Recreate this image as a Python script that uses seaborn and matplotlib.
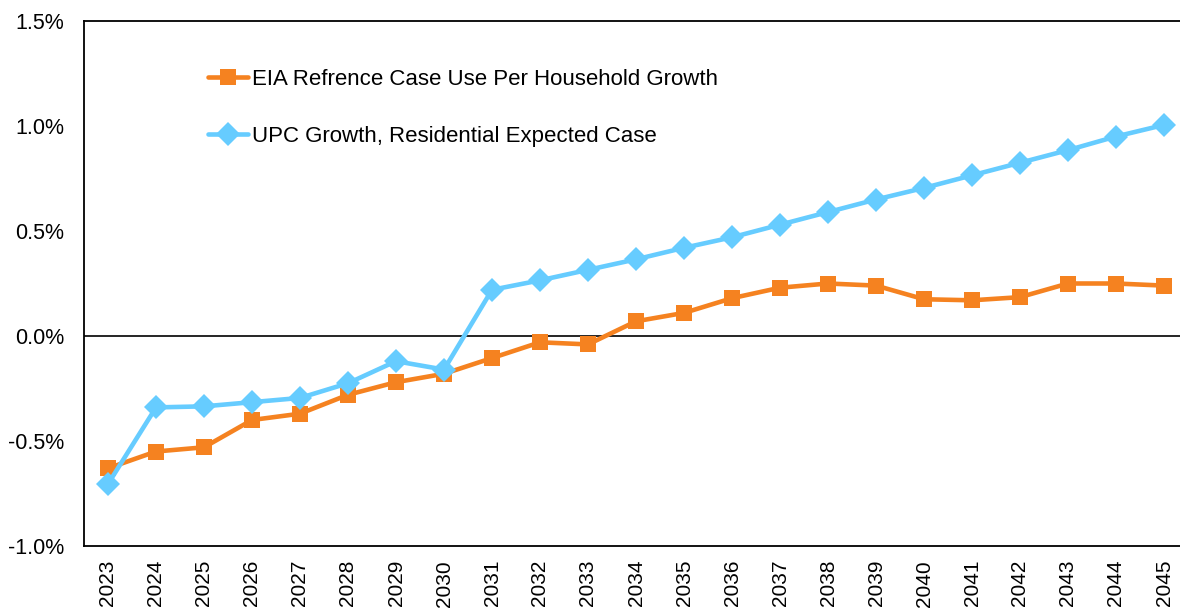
import matplotlib
matplotlib.use("Agg")
import matplotlib.pyplot as plt
import seaborn as sns
import pandas as pd
from matplotlib.ticker import FuncFormatter

years = [str(y) for y in range(2023, 2046)]
eia_growth = [-0.63, -0.55, -0.53, -0.40, -0.37, -0.28, -0.22, -0.18, -0.105, -0.03, -0.04,
              0.07, 0.11, 0.18, 0.23, 0.25, 0.24, 0.175, 0.17, 0.185, 0.25, 0.25, 0.24]
upc_growth = [-0.705, -0.34, -0.335, -0.315, -0.295, -0.225, -0.12, -0.16, 0.22, 0.265, 0.315,
              0.365, 0.42, 0.47, 0.53, 0.59, 0.65, 0.705, 0.765, 0.825, 0.885, 0.95, 1.005]
eia_label = "EIA Refrence Case Use Per Household Growth"
upc_label = "UPC Growth, Residential Expected Case"

sns.set_theme(style="white")
plt.rcParams['font.family'] = ['Liberation Sans', 'DejaVu Sans']
plt.rcParams['text.color'] = 'black'
plt.rcParams['xtick.color'] = 'black'
plt.rcParams['ytick.color'] = 'black'

df = pd.DataFrame({
    "year": years * 2,
    "growth": eia_growth + upc_growth,
    "series": [eia_label] * len(years) + [upc_label] * len(years),
})

fig = plt.figure(figsize=(11.8, 6.09), dpi=100)
W, H = 1180, 609
ax = fig.add_axes([84 / W, (H - 546) / H, 1104 / W, 525 / H])

orange = "#F58220"
blue = "#66CCFF"
sns.lineplot(data=df[df.series == eia_label], x="year", y="growth", ax=ax, color=orange,
             linewidth=3.3, marker="s", markersize=11, markeredgewidth=0, label=eia_label,
             sort=False)
sns.lineplot(data=df[df.series == upc_label], x="year", y="growth", ax=ax, color=blue,
             linewidth=3.3, marker="D", markersize=12, markeredgewidth=0, label=upc_label,
             sort=False)

ax.set_xlim(-0.5, 22.5)
ax.set_ylim(-1.0, 1.5)
ax.set_yticks([-1.0, -0.5, 0.0, 0.5, 1.0, 1.5])
ax.yaxis.set_major_formatter(FuncFormatter(lambda v, p: f"{v:.1f}%"))
ax.axhline(0, color="black", linewidth=1.2, zorder=1)
ax.set_xlabel("")
ax.set_ylabel("")
ax.tick_params(axis="x", labelrotation=90, labelsize=15, length=0, pad=10)
ax.tick_params(axis="y", labelsize=15.5, length=0, pad=14)
for s in ["left", "bottom", "top"]:
    ax.spines[s].set_color("black")
    ax.spines[s].set_linewidth(1.3)
ax.spines["right"].set_visible(False)
ax.grid(False)

leg = ax.legend(loc="upper left", bbox_to_anchor=(0.104, 0.925), frameon=False,
                fontsize=16, handlelength=1.8, handletextpad=0.2, labelspacing=1.6,
                borderaxespad=0)

fig.savefig("out.png", dpi=100)
